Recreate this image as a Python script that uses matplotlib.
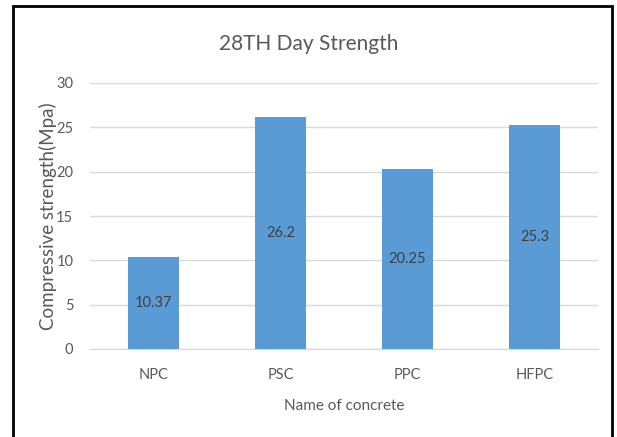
import matplotlib.pyplot as plt
import numpy as np
from matplotlib.patches import Rectangle

concretes = ["NPC", "PSC", "PPC", "HFPC"]
strength = [10.37, 26.2, 20.25, 25.3]
strength_labels = ["10.37", "26.2", "20.25", "25.3"]

plt.rcParams["font.family"] = ["Lato", "DejaVu Sans"]
text_color = "#595959"

fig = plt.figure(figsize=(6.17, 4.37), dpi=100)
ax = fig.add_axes([90 / 617, 1 - 349 / 437, 508 / 617, (349 - 83) / 437])

x = np.arange(len(concretes))
bars = ax.bar(x, strength, width=0.4, color="#5B9BD5", zorder=3)

for b, lab in zip(bars, strength_labels):
    ax.text(
        b.get_x() + b.get_width() / 2,
        b.get_height() / 2,
        lab,
        ha="center",
        va="center",
        fontsize=10.5,
        color="#404040",
        zorder=4,
    )

ax.set_xlim(-0.5, len(concretes) - 0.5)
ax.set_ylim(0, 30)
ax.set_yticks(range(0, 31, 5))
ax.set_xticks(x)
ax.set_xticklabels(concretes)
ax.grid(axis="y", color="#D9D9D9", linewidth=1, zorder=0)
for s in ["top", "right", "left"]:
    ax.spines[s].set_visible(False)
ax.spines["bottom"].set_color("#D9D9D9")
ax.tick_params(axis="both", length=0, labelsize=10.5, colors=text_color)
ax.tick_params(axis="x", pad=14)
ax.tick_params(axis="y", pad=12)

ax.set_xlabel("Name of concrete", fontsize=11, color=text_color, labelpad=12)
ax.set_ylabel("Compressive strength(Mpa)", fontsize=13.5, color=text_color,
              va="center")
ax.yaxis.set_label_coords(-0.083, 0.5)
fig.text(0.5, 1 - 44 / 437, "28TH Day Strength", ha="center", va="center",
         fontsize=15, color=text_color)

# outer frame around the chart
fig.patches.append(Rectangle((13 / 617, -0.05), (612 - 13) / 617, 1 - 6 / 437 + 0.05,
                             transform=fig.transFigure, fill=False,
                             edgecolor="black", linewidth=2))

fig.savefig("out.png", dpi=100)
